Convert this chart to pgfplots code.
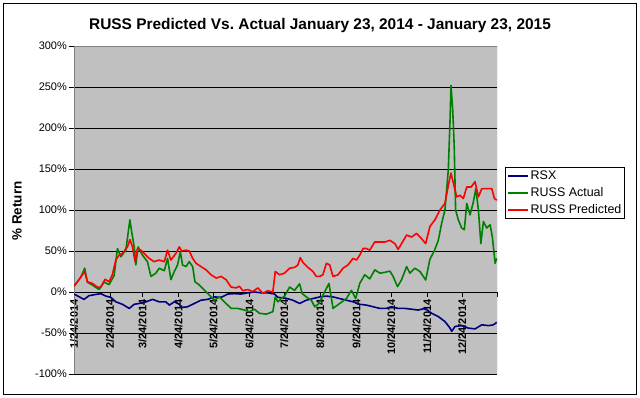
\documentclass[border=0pt]{standalone}
\usepackage{pgfplots}
\pgfplotsset{compat=1.18}
\usepackage{fontspec}
\setmainfont{Liberation Sans}
\frenchspacing
\definecolor{plotbg}{HTML}{C0C0C0}
\definecolor{rsx}{HTML}{000080}
\definecolor{actual}{HTML}{008000}
\definecolor{pred}{HTML}{FF0000}
\begin{document}
\begin{tikzpicture}
\path[use as bounding box] (0,0) rectangle (640bp,398bp);
\fill[white] (0,0) rectangle (640bp,398bp);
\draw[black, line width=0.8bp] (3bp,4bp) rectangle (636bp,395bp);
\node[font=\fontsize{15.5}{17}\selectfont\bfseries] at (320bp,372bp) {RUSS Predicted Vs.\ Actual January 23, 2014 - January 23, 2015};
\node[font=\fontsize{13.5}{15}\selectfont\bfseries, rotate=90] at (17bp,187bp) {\% Return};
\begin{axis}[
  at={(74bp,24bp)}, anchor=south west,
  width=423bp, height=328bp, scale only axis,
  xmin=0, xmax=364, ymin=-100, ymax=300,
  axis x line=middle, axis y line=left,
  axis line style={-, black, line width=0.6bp},
  hide obscured x ticks=false, hide obscured y ticks=false,
  axis background/.style={fill=plotbg},
  ytick={-100,-50,0,50,100,150,200,250,300},
  yticklabels={-100\%,-50\%,0\%,50\%,100\%,150\%,200\%,250\%,300\%},
  xtick={0,31,59,90,120,151,181,212,243,273,304,334,364},
  xticklabels={1/24/2014,2/24/2014,3/24/2014,4/24/2014,5/24/2014,6/24/2014,7/24/2014,8/24/2014,9/24/2014,10/24/2014,11/24/2014,12/24/2014,},
  tick align=outside, major tick length=5bp,
  tick style={black, line width=0.6bp},
  xticklabel style={rotate=90, anchor=east, font=\fontsize{11}{12}\selectfont\bfseries, inner sep=2.5bp},
  yticklabel style={font=\fontsize{11}{12}\selectfont, inner sep=2bp},
  ymajorgrids, grid style={black, line width=0.6bp},
  legend style={at={(1.019,0.631)}, anchor=north west, draw=black, line width=0.8bp,
    font=\fontsize{12.5}{14}\selectfont, inner sep=1.5bp, row sep=2.5bp, fill=white},
  legend cell align=left,
  legend image code/.code={\draw[#1, line width=1.8bp] (0bp,0bp) -- (20bp,0bp);},
  every axis plot/.append style={line width=1.6bp, line join=round},
]
\draw[gray, line width=0.8bp] (rel axis cs:0,0) rectangle (rel axis cs:1,1);
\addplot[rsx] coordinates {
(0,-2.5)(4.3,-5.7)(8.6,-9)(12.9,-4.5)(18.7,-3)(23.0,-2)(27.4,-5)(31.7,-6.5)(36.0,-12)(41.7,-15)
(47.5,-20)(51.8,-15)(56.1,-14)(61.9,-12)(67.6,-9)(73.3,-12)(79.1,-12)(82.0,-16)(86.3,-12)(90.6,-15)
(92.1,-19)(97.8,-18)(103.5,-14)(109.3,-10)(115.0,-9)(120.8,-6)(126.6,-6.5)(132.3,-2.5)(138.0,-2)(143.8,-2.5)
(149.5,-1)(155.3,0)(161.1,-1)(166.8,-1)(172.6,-2.5)(175.4,-6.5)(182.6,-7.7)(188.3,-10)(194.1,-14)(199.9,-10)
(205.6,-8)(211.4,-6)(217.2,-5)(222.9,-6)(228.6,-8)(234.4,-10)(240.1,-12)(245.9,-15)(251.7,-16)(257.4,-18)
(263.2,-20)(268.9,-20)(273.2,-18)(278.9,-20)(284.7,-20)(290.5,-21)(296.2,-22)(302.0,-20)(307.8,-26)(313.5,-30)
(319.2,-36)(323.6,-44)(325.0,-48)(327.9,-42)(333.6,-41)(339.3,-44)(345.1,-45)(350.9,-40)(356.6,-41)(360.9,-40)(363.8,-37)
};
\addlegendentry{RSX}
\addplot[actual] coordinates {
(0,7)(2.8,12)(5.8,18)(9.2,29)(11.5,12)(15.8,8.5)(21.6,3)(25.9,12)(30.2,9)(34.5,20)
(37.4,53)(40.3,43)(44.6,51)(48.1,88)(49.8,72)(51.8,55)(53.2,33)(55.2,55)(58.9,45)(63.2,37)
(66.2,19)(70.5,23)(73.3,29)(77.7,26)(80.5,41)(83.4,15)(86.3,25)(89.1,33)(91.5,49)(93.4,33)
(96.4,31)(99.2,37)(102.1,31)(104.1,12.5)(107.9,8.5)(112.2,2.4)(116.5,-3.7)(120.8,-10)(125.1,-6)(129.4,-12)
(135.2,-20)(140.9,-20)(146.7,-22)(151.0,-24)(155.3,-21)(159.6,-26)(165.4,-27)(171.1,-24)(173.2,-6)(175.4,-12)
(178.3,-8)(181.2,-5)(185.5,6)(189.8,2)(194.1,10)(196.4,-2)(199.9,-6)(204.2,-10)(207.1,-18)(210.8,-14)
(214.2,-4)(219.4,10.5)(222.9,-20)(228.6,-14)(234.4,-8)(238.7,2)(242.4,-8)(245.9,10.5)(250.2,21)(254.5,16)
(258.8,27)(263.2,23)(267.5,24)(271.8,25.5)(274.6,19)(278.4,6.5)(281.9,15)(286.2,31)(289.0,23)(293.3,29)
(297.7,25)(302.6,14.6)(306.3,40)(310.0,50)(313.5,63)(316.4,84)(319.2,100)(322.1,149)(323.6,210)(324.4,252)
(325.9,222)(327.2,177)(328.4,100)(330.7,88)(333.6,78)(335.9,76)(338.0,108)(340.8,94)(343.7,110)(345.8,126)
(348.0,100)(350.1,59)(352.3,86)(355.2,78)(358.1,82)(360.0,67)(362.4,35)(363.8,41)
};
\addlegendentry{RUSS Actual}
\addplot[pred] coordinates {
(0,7)(2.8,12.5)(5.8,18)(9.2,25)(11.5,12.5)(15.8,10.5)(20.1,6)(23.0,6)(26.7,15.5)(30.2,12.5)
(33.0,21)(36.0,39)(38.8,45)(41.7,47)(46.0,55)(48.1,64)(50.3,55)(52.6,37)(54.6,53)(57.5,51)
(60.4,47)(64.7,41)(69.0,37)(73.3,39)(77.7,37)(80.5,51)(83.4,39)(87.7,47)(90.6,55)(92.6,50)
(96.4,51)(99.2,50)(102.1,41)(105.0,35)(109.3,31)(113.6,27)(117.9,21)(122.3,17)(126.6,19)(130.9,15)
(135.2,6)(139.5,5)(142.4,7)(145.2,1.6)(149.5,3)(153.8,0.5)(158.2,5)(162.5,-1.6)(166.8,1.5)(171.1,0)
(173.2,25)(176.9,21)(181.2,23)(185.5,29)(189.8,30)(192.7,33)(194.7,42)(197.0,36)(201.3,30)(205.6,25)
(208.5,19)(211.4,19)(214.2,21)(217.2,35)(220.0,33)(222.9,19)(227.2,21)(231.5,29)(235.8,33)(240.1,41)
(243.1,39)(245.9,45)(248.7,53)(251.7,53)(254.5,51)(258.8,61)(263.2,61)(267.5,61)(271.8,63)(276.1,59)
(278.9,52)(281.9,59)(286.2,69.5)(290.5,67)(294.8,71.5)(299.1,65)(302.6,59)(306.3,80)(310.6,88)(314.9,100)
(319.2,108)(322.1,130)(324.4,145)(326.4,133)(329.3,116)(332.2,118)(335.0,114)(338.0,128)(341.7,128)(345.1,134.5)
(348.0,116)(350.9,126)(355.2,126)(359.5,126)(361.8,114)(363.8,112)
};
\addlegendentry{RUSS Predicted}
\end{axis}
\end{tikzpicture}
\end{document}
